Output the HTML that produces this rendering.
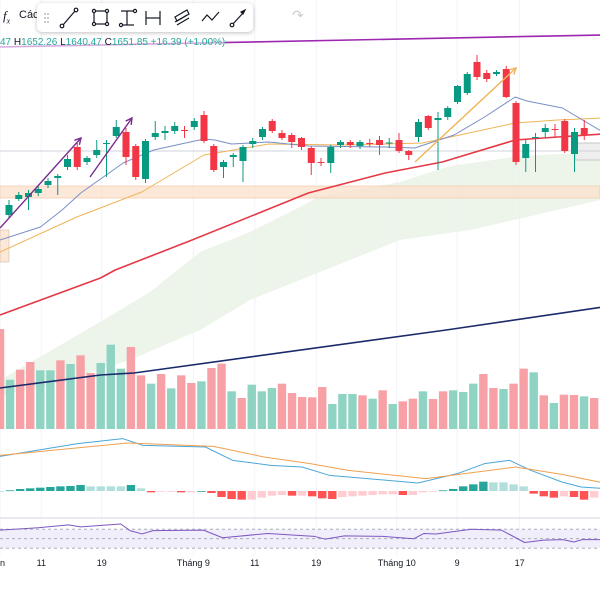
<!DOCTYPE html>
<html><head><meta charset="utf-8">
<style>
html,body{margin:0;padding:0;background:#fff;width:600px;height:600px;overflow:hidden;font-family:"Liberation Sans",sans-serif;}
#wrap{position:relative;width:600px;height:600px;}
svg{position:absolute;left:0;top:0;}
#toolbar{position:absolute;left:37px;top:3px;width:216px;height:29px;background:#fff;border-radius:5px;box-shadow:0 1px 4px rgba(0,0,0,.25);}
.tl{position:absolute;font-size:11px;color:#131722;}
</style></head><body>
<div id="wrap">
<svg id="chart" width="600" height="600"></svg>
<div class="tl" style="left:3px;top:8px;font-size:13px;font-family:'Liberation Serif',serif;font-style:italic">f<sub style="font-size:8px">x</sub></div>
<div class="tl" style="left:19px;top:9px;font-size:11px">Các</div>
<div id="toolbar">
<svg width="216" height="29">
<g fill="#bbb"><circle cx="8" cy="11" r="1"/><circle cx="11" cy="11" r="1"/><circle cx="8" cy="15" r="1"/><circle cx="11" cy="15" r="1"/><circle cx="8" cy="19" r="1"/><circle cx="11" cy="19" r="1"/></g>
<g stroke="#131722" fill="none" stroke-width="1.2">
<g><line x1="26" y1="22" x2="38" y2="8"/><circle cx="25" cy="23" r="1.8" fill="#fff"/><circle cx="39" cy="7" r="1.8" fill="#fff"/></g>
<g><rect x="57" y="8" width="13" height="13"/><circle cx="57" cy="8" r="1.6" fill="#fff"/><circle cx="70" cy="8" r="1.6" fill="#fff"/><circle cx="57" cy="21" r="1.6" fill="#fff"/><circle cx="70" cy="21" r="1.6" fill="#fff"/></g>
<g><line x1="84" y1="8" x2="97" y2="8"/><line x1="84" y1="22" x2="97" y2="22"/><line x1="90" y1="8" x2="90" y2="22"/><circle cx="98" cy="8" r="1.6" fill="#fff"/><circle cx="84" cy="22" r="1.6" fill="#fff"/></g>
<g><line x1="109" y1="8" x2="109" y2="22"/><line x1="123" y1="8" x2="123" y2="22"/><line x1="109" y1="15" x2="123" y2="15"/></g>
<g><path d="M138 14 L150 7 L152 11 L140 18 Z M138 19 L150 12 M140 22 L152 15"/></g>
<g><polyline points="165,18 170,12 175,17 182,9"/></g>
<g><line x1="195" y1="22" x2="207" y2="9"/><circle cx="195" cy="22" r="1.8" fill="#fff"/><path d="M208 7 L204 9 L206 11 Z" fill="#131722"/></g>
</g></svg></div>
<div class="tl" style="left:292px;top:7px;color:#ccc;font-size:14px">↷</div>
<div class="tl" style="left:0;top:37px;font-size:10px;color:#26a69a;white-space:nowrap;background:rgba(255,255,255,.6)"><span style="color:#26a69a">47</span> <span style="color:#131722">H</span>1652.26 <span style="color:#131722">L</span>1640.47 <span style="color:#131722">C</span>1651.85 +16.39 (+1.00%)</div>
</div>
<script>
// ---- data ----
const candleOpen=[1505,1521,1523,1527,1535,1542,1553,1573,1558,1565,1576,1584,1588,1574,1541,1583,1587,1589,1590,1593,1605,1574,1553,1563,1559,1576,1583,1599,1587,1585,1582,1572,1558,1557,1575,1578,1574,1577,1580,1577,1580,1569,1583,1604,1600,1603,1618,1627,1658,1647,1646,1651,1617,1562,1582,1588,1591,1599,1566,1592];
const candleClose=[1515,1525,1527,1531,1539,1544,1561,1553,1562,1570,1577,1593,1563,1543,1579,1587,1589,1594,1589,1599,1579,1550,1558,1565,1573,1579,1591,1589,1582,1578,1573,1557,1557,1573,1578,1575,1578,1576.5,1575,1577.5,1569,1565,1598,1592,1602,1612,1634,1646,1643,1641,1648,1623,1558,1576,1583,1592,1590,1569,1588,1585];
const candleHigh=[1520,1528,1530,1534,1542,1546,1565,1577,1564,1580,1580,1600,1592,1576,1581,1599,1594,1598,1594,1602,1609,1576,1560,1567,1575,1582,1593,1601,1590,1587,1583,1574,1562,1575,1580,1580,1580,1581,1584,1582,1587,1570,1601,1605,1608,1614,1635,1648,1665,1650,1650,1654,1619,1580,1587,1596,1596,1601,1592,1600];
const candleLow=[1502,1519,1510,1524,1532,1525,1550,1550,1555,1562,1543,1582,1555,1540,1537,1580,1580,1586,1582,1590,1577,1548,1542,1553,1538,1572,1580,1587,1580,1572,1570,1545,1554,1547,1572,1572,1571,1573,1565,1572,1567,1560,1578,1590,1550,1600,1616,1625,1640,1638,1644,1622,1555,1548,1548,1582,1582,1567,1548,1580];
const ma10Idx=[0,4.1,6.3,8.2,12.5,15.6,20.7,21.8,23.5,27.3,31.3,39.1,42.1,46.1,49.2,52.3,53.5,57.1,61.2];
const ma10Val=[1480,1493,1510,1527,1557,1570,1581,1580,1576,1578,1574,1573,1572,1585,1603,1623,1619,1612,1588];
const ma20Idx=[0,7.8,14.4,20.7,27.3,35.1,42.9,52.3,56.6,61.2];
const ma20Val=[1468,1503,1528,1565,1576,1575,1577,1597,1600,1602];
const ma50Idx=[0,10.2,11.7,19.5,31.3,39.1,44.9,52.3,56.6,61.2];
const ma50Val=[1405,1442,1450,1480,1527,1547,1558,1580,1583,1586];
const ma200Idx=[0,10.2,13.6,45.3,61.2];
const ma200Val=[1332,1345,1347,1390,1413];
const volume=[300,148,178,201,176,176,206,195,221,168,198,253,181,246,161,136,165,122,161,138,143,183,196,113,93,133,113,123,136,108,96,95,126,75,105,105,101,91,116,75,83,91,113,90,113,116,111,136,165,123,120,136,181,170,101,78,103,102,98,93];
const volumeUp=[0,1,0,0,1,1,0,1,0,0,1,1,1,0,0,1,0,1,0,0,1,0,0,1,0,1,1,1,0,0,0,0,0,1,1,1,0,1,0,1,0,0,1,0,0,1,1,1,0,0,1,0,0,1,0,1,0,0,1,0];
const macdIdx=[0,7.7,12.2,14.2,20.4,23.1,26.9,30,32.7,38.5,41.5,45.4,48.1,50.6,52.7,55.8,57.7,60.3];
const macdVal=[104,142,157,137,132,92,77,72,47,32,24,52,82,92,62,27,12,7];
const signalIdx=[0,12.7,21.2,26.2,30.8,34.6,42.3,51.2,55.8,60.3];
const signalVal=[107,144,134,102,82,62,37,72,50,22];
const histVal=[0,2,6,8,10,12,14,15,18,14,14,14,14,18,8,-4,-2,-1,-4,-4,0,-6,-18,-24,-26,-26,-20,-14,-12,-14,-14,-16,-22,-24,-18,-16,-14,-12,-10,-10,-12,-12,-4,-2,2,6,14,20,28,26,26,20,14,-8,-16,-20,-16,-18,-26,-20];
const rsiIdx=[0,3.8,6.8,8,12,12.9,14.1,15.2,20.2,22.1,26.6,31.2,32.3,34.2,38,41.1,42.1,43.3,46.8,49.8,52.1,54,55.9,57,57.8,59.6];
const rsiVal=[68,73,79,75,81,67,60,67,68,52,61,55,49,56,55,50,61,60,70,68,42,47,48,43,48,48];
const tickLabels=["n","11","19","Tháng 9","11","19","Tháng 10","9","17"];
const tickIdx=[0,4.1,10.1,19.2,25.3,31.4,39.4,45.4,51.6];

// ---- scales ----
const xC=i=>9+i*9.75;
const xL=i=>i*9.85;
const xV=i=>i*10.07;
const yP=p=>1720-p;
const yVol=v=>429-v/3;
const yM=v=>491-v/3;
const yR=r=>538.7-(r-50)*0.475;

const svg=document.getElementById('chart');
const NS='http://www.w3.org/2000/svg';
function mk(tag,attrs,parent){const e=document.createElementNS(NS,tag);for(const k in attrs)e.setAttribute(k,attrs[k]);(parent||svg).appendChild(e);return e;}

// grid
tickIdx.forEach((t,i)=>{
  const g=mk('line',{x1:xV(t),x2:xV(t),y1:0,y2:555,stroke:'#f0f3fa','stroke-width':1});
  
  
});
// cloud
const cloud=mk('polygon',{points:'0,380 100,322 150,292 200,252 250,232 300,207 320,196 400,182 450,166 520,156 600,152 600,200 540,214 470,230 400,240 350,260 300,280 250,300 200,330 130,360 60,382 0,396',fill:'#e8f3e6',opacity:0.8});


// zones
const band=mk('rect',{x:0,y:186,width:600,height:12,fill:'#fbe3cf',stroke:'#f0b48a','stroke-width':0.6,opacity:0.8});


const lbox=mk('rect',{x:0,y:230,width:9,height:32,fill:'#fbe8d8',stroke:'#d9b8a0','stroke-width':0.6});


const rbox=mk('rect',{x:575,y:143,width:30,height:17,fill:'#eeeeee',stroke:'#aaa','stroke-width':0.6});


const hl=mk('line',{x1:0,x2:600,y1:151,y2:151,stroke:'#cfd3da','stroke-width':1});



// volume
volume.forEach((v,i)=>{
  const r=mk('rect',{x:xV(i)-4.2,y:yVol(v),width:8.4,height:429-yVol(v),fill:volumeUp[i]?'#8fd3c3':'#f7a1a6'});
  
  
});

function line(idx,val,xf,yf,color,w,name){
  const pts=idx.map((t,i)=>xf(t)+','+yf(val[i])).join(' ');
  const p=mk('polyline',{points:pts,fill:'none',stroke:color,'stroke-width':w,'stroke-linejoin':'round'});
  
  
}
line(ma50Idx,ma50Val,xL,yP,'#e53945',1.6,'ma50-line');
line(ma20Idx,ma20Val,xL,yP,'#f0b457',1,'ma20-line');
line(ma10Idx,ma10Val,xL,yP,'#7b8fc6',1,'ma10-line');
line(ma200Idx,ma200Val,xL,yP,'#1b2a6b',1.6,'ma200-line');
line([0,61],[1673,1685],xL,yP,'#9c27b0',1.6,'purple-trend-line');

// candles
candleOpen.forEach((o,i)=>{
  const c=candleClose[i],up=c>=o,col=up?'#089981':'#f23645',x=xC(i);
  const w=mk('line',{x1:x,x2:x,y1:yP(candleHigh[i]),y2:yP(candleLow[i]),stroke:col,'stroke-width':1});
  
  
  const top=yP(Math.max(o,c)),h=Math.max(1,Math.abs(o-c));
  const b=mk('rect',{x:x-3.5,y:top,width:7,height:h,fill:col});
  
  
});

// arrows
function arrow(x1,y1,x2,y2,col,name){
  const g=mk('g',{stroke:col,'stroke-width':1.4,fill:'none'});
  
  
  mk('line',{x1,y1,x2,y2},g);
  const a=Math.atan2(y2-y1,x2-x1);
  mk('polyline',{points:(x2-7*Math.cos(a-0.5))+','+(y2-7*Math.sin(a-0.5))+' '+x2+','+y2+' '+(x2-7*Math.cos(a+0.5))+','+(y2-7*Math.sin(a+0.5))},g);
}
arrow(0,228,81,138,'#7b2d8e','trend-arrow-1');
arrow(90,177,132,118,'#7b2d8e','trend-arrow-2');
arrow(415,162,516,68,'#f0b457','trend-arrow-3');

// MACD
histVal.forEach((v,i)=>{
  const prev=i?histVal[i-1]:0;
  let col;
  if(v>=0) col=v>prev?'#26a69a':'#b2dfdb'; else col=v<prev?'#ff5252':'#ffcdd2';
  const r=mk('rect',{x:xV(i)-4.2,y:Math.min(yM(v),491),width:8.4,height:Math.max(0.8,Math.abs(v)/3),fill:col});
  
  
});
line(macdIdx,macdVal,xV,yM,'#4ca6d8',1,'macd-line');
line(signalIdx,signalVal,xV,yM,'#f0a050',1,'signal-line');

// separator
const sep=mk('line',{x1:0,x2:600,y1:518,y2:518,stroke:'#e0e3eb','stroke-width':1.5});


// RSI
const rb=mk('rect',{x:0,y:yR(70),width:600,height:yR(30)-yR(70),fill:'#f1eefb'});


[70,50,30].forEach(l=>{
  const d=mk('line',{x1:0,x2:600,y1:yR(l),y2:yR(l),stroke:'#a0a4b0','stroke-width':0.8,'stroke-dasharray':'3,3'});
  
  
});
line(rsiIdx,rsiVal,xV,yR,'#7e57c2',1,'rsi-line');

// x axis labels
tickLabels.forEach((t,i)=>{
  const tx=mk('text',{x:xV(tickIdx[i]),y:566,'font-size':9,'text-anchor':i===0?'start':'middle',fill:'#131722','font-family':'Liberation Sans, sans-serif'});
  tx.textContent=t;
  
  
});
</script>
</body></html>
